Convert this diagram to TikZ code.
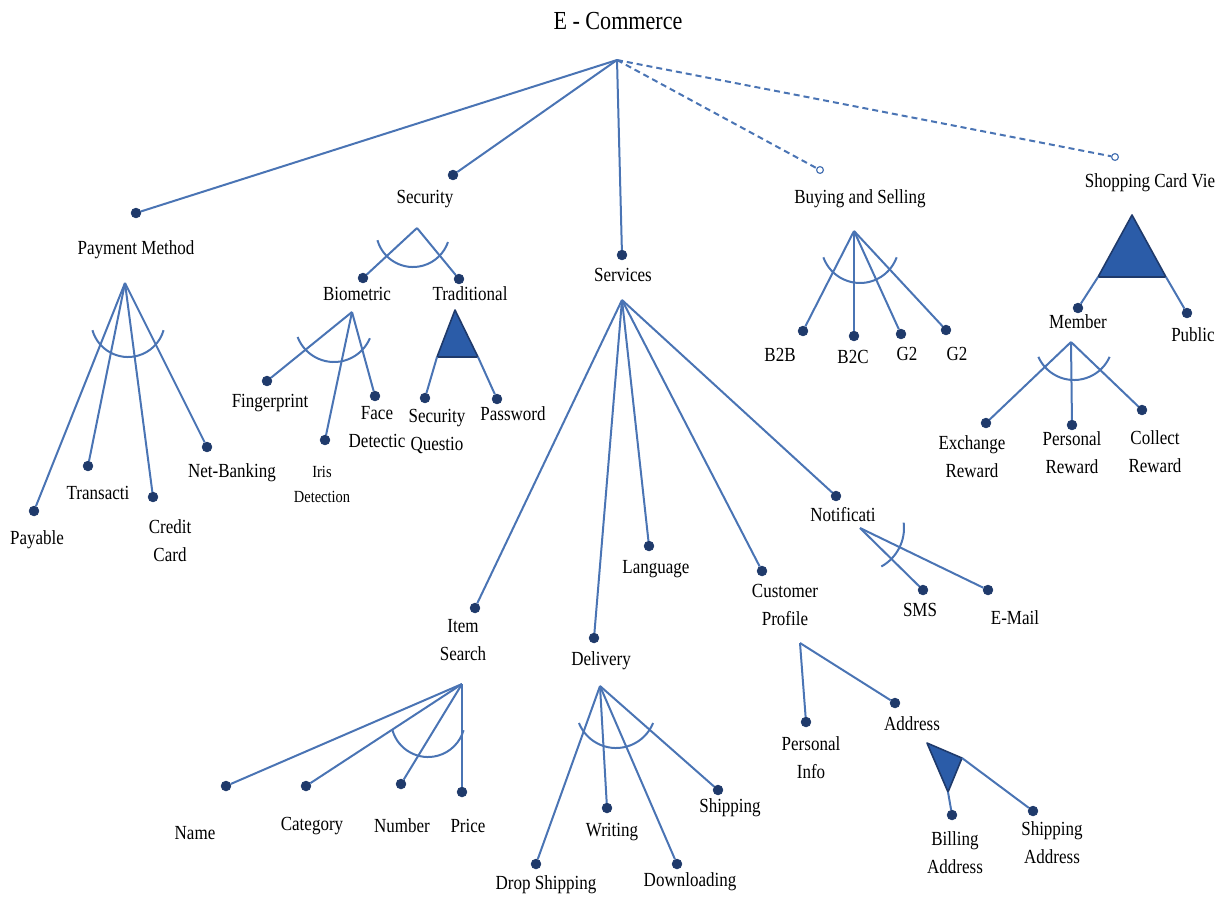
\documentclass[tikz,border=0pt]{standalone}
\usepackage{fontspec}
\setmainfont{Liberation Serif}[FakeStretch=0.85]
\definecolor{ln}{HTML}{4A74B4}
\definecolor{dt}{HTML}{1F3A6B}
\definecolor{tri}{HTML}{2B5CA8}
\begin{document}
\begin{tikzpicture}[x=0.5pt,y=-0.5pt,
  dotn/.style={circle,fill=dt,draw=dt,inner sep=0pt,minimum size=4.8pt},
  odot/.style={circle,draw=ln,fill=white,inner sep=0pt,minimum size=3.4pt,line width=0.6pt},
  lbl/.style={font=\fontsize{10}{14}\selectfont,align=center,inner sep=0pt},
  slbl/.style={font=\fontsize{8.5}{12.5}\selectfont,align=center,inner sep=0pt},
  edge/.style={draw=ln,line width=1pt},
  dedge/.style={draw=ln,line width=1pt,dash pattern=on 3pt off 2pt},
  trif/.style={fill=tri,draw=dt,line width=0.8pt,line join=round}]
\useasboundingbox (0,0) rectangle (1231,902);
% root
\node[lbl,font=\fontsize{13}{15}\selectfont] (ecom) at (618,21) {E - Commerce};
\coordinate (r) at (617,60);
% level 1 dots
\node[dotn] (pm) at (136,213) {};
\node[dotn] (sec) at (453,175) {};
\node[dotn] (srv) at (622,255) {};
\node[odot] (bs) at (820,170) {};
\node[odot] (scv) at (1115,157) {};
\draw[edge] (r) -- (pm);
\draw[edge] (r) -- (sec);
\draw[edge] (r) -- (srv);
\draw[dedge] (r) -- (bs);
\draw[dedge] (r) -- (scv);
% Payment method
\node[lbl] (pmL) at (136,250) {Payment Method};
\coordinate (pmA) at (125,283);
\node[dotn] (pay) at (34,511) {};
\node[dotn] (tr) at (88,466) {};
\node[dotn] (cc) at (153,497) {};
\node[dotn] (nb) at (207,447) {};
\node[lbl] (payL) at (37,540) {Payable};
\node[lbl] (trL) at (98,493) {Transacti};
\node[lbl] (ccL) at (170,541) {Credit\\Card};
\node[lbl] (nbL) at (232,473) {Net-Banking};
\foreach \n in {pay,tr,cc,nb} \draw[edge] (pmA) -- (\n);
\coordinate (pmC) at (128,320);
\draw[edge] (pmC) ++(164:37) arc (164:16:37);
% Security
\node[lbl] (secL) at (425,199) {Security};
\coordinate (secA) at (417,228);
\node[dotn] (bio) at (363,278) {};
\node[dotn] (trad) at (459,279) {};
\draw[edge] (secA) -- (bio);
\draw[edge] (secA) -- (trad);
\coordinate (secC) at (413,230);
\draw[edge] (secC) ++(164:37) arc (164:19:37);
\node[lbl] (bioL) at (357,294) {Biometric};
\node[lbl] (tradL) at (470,294) {Traditional};
% Biometric
\coordinate (bioA) at (352,312);
\node[dotn] (fp) at (267,381) {};
\node[dotn] (iris) at (325,440) {};
\node[dotn] (face) at (375,396) {};
\foreach \n in {fp,iris,face} \draw[edge] (bioA) -- (\n);
\coordinate (bioC) at (334,323);
\draw[edge] (bioC) ++(159:39) arc (159:23:39);
\node[lbl] (fpL) at (270,403) {Fingerprint};
\node[slbl] (irisL) at (322,484) {Iris\\Detection};
\node[lbl] (faceL) at (377,427) {Face\\Detectic};
% Traditional
\coordinate (tT) at (455,310);
\coordinate (tL) at (437,357);
\coordinate (tR) at (478,357);
\draw[trif] (tT) -- (tL) -- (tR) -- cycle;
\node[dotn] (sq) at (425,398) {};
\node[dotn] (pw) at (497,399) {};
\draw[edge] (tL) -- (sq);
\draw[edge] (tR) -- (pw);
\node[lbl] (sqL) at (437,431) {Security\\Questio};
\node[lbl] (pwL) at (513,414) {Password};
% Services
\node[lbl] (srvL) at (623,275) {Services};
\coordinate (srvA) at (622,300);
\node[dotn] (is) at (475,608) {};
\node[dotn] (del) at (594,638) {};
\node[dotn] (lang) at (649,546) {};
\node[dotn] (cp) at (762,571) {};
\node[dotn] (nt) at (836,496) {};
\foreach \n in {is,del,lang,cp,nt} \draw[edge] (srvA) -- (\n);
\node[lbl] (isL) at (463,640) {Item\\Search};
\node[lbl] (delL) at (601,661) {Delivery};
\node[lbl] (langL) at (656,569) {Language};
\node[lbl] (cpL) at (785,605) {Customer\\Profile};
\node[lbl] (ntL) at (843,515) {Notificati};
% Notification
\coordinate (ntA) at (860,528);
\node[dotn] (sms) at (923,590) {};
\node[dotn] (em) at (988,590) {};
\draw[edge] (ntA) -- (sms);
\draw[edge] (ntA) -- (em);
\draw[edge] (ntA) ++(-7:44) arc (-7:61:44);
\node[lbl] (smsL) at (920,610) {SMS};
\node[lbl] (emL) at (1015,618) {E-Mail};
% Customer profile
\coordinate (cpA) at (800,643);
\node[dotn] (pi) at (806,722) {};
\node[dotn] (ad) at (895,703) {};
\draw[edge] (cpA) -- (pi);
\draw[edge] (cpA) -- (ad);
\node[lbl] (piL) at (811,758) {Personal\\Info};
\node[lbl] (adL) at (912,724) {Address};
\coordinate (aT) at (927,743);
\coordinate (aR) at (962,758);
\coordinate (aB) at (948,792);
\draw[trif] (aT) -- (aR) -- (aB) -- cycle;
\node[dotn] (ba) at (952,815) {};
\node[dotn] (sa) at (1033,811) {};
\draw[edge] (aB) -- (ba);
\draw[edge] (aR) -- (sa);
\node[lbl] (baL) at (955,853) {Billing\\Address};
\node[lbl] (saL) at (1052,843) {Shipping\\Address};
% Item search
\coordinate (isA) at (462,684);
\node[dotn] (nm) at (226,786) {};
\node[dotn] (cat) at (306,786) {};
\node[dotn] (num) at (401,784) {};
\node[dotn] (pr) at (462,792) {};
\foreach \n in {nm,cat,num,pr} \draw[edge] (isA) -- (\n);
\coordinate (isC) at (428,720);
\draw[edge] (isC) ++(164:37) arc (164:16:37);
\node[lbl] (nmL) at (195,833) {Name};
\node[lbl] (catL) at (312,826) {Category};
\node[lbl] (numL) at (402,826) {Number};
\node[lbl] (prL) at (468,826) {Price};
% Delivery
\coordinate (delA) at (600,686);
\node[dotn] (ds) at (536,864) {};
\node[dotn] (wr) at (607,808) {};
\node[dotn] (dl) at (677,864) {};
\node[dotn] (sh) at (718,790) {};
\foreach \n in {ds,wr,dl,sh} \draw[edge] (delA) -- (\n);
\coordinate (delC) at (616,708);
\draw[edge] (delC) ++(158:40) arc (158:22:40);
\node[lbl] (dsL) at (546,885) {Drop Shipping};
\node[lbl] (wrL) at (612,832) {Writing};
\node[lbl] (dlL) at (690,882) {Downloading};
\node[lbl] (shL) at (730,808) {Shipping};
% Buying and selling
\node[lbl] (bsL) at (860,199) {Buying and Selling};
\coordinate (bsA) at (854,231);
\node[dotn] (b2b) at (803,331) {};
\node[dotn] (b2c) at (854,336) {};
\node[dotn] (g2a) at (901,334) {};
\node[dotn] (g2b) at (946,330) {};
\foreach \n in {b2b,b2c,g2a,g2b} \draw[edge] (bsA) -- (\n);
\coordinate (bsC) at (860,244);
\draw[edge] (bsC) ++(160:39) arc (160:20:39);
\node[lbl] (b2bL) at (780,355) {B2B};
\node[lbl] (b2cL) at (853,357) {B2C};
\node[lbl] (g2aL) at (907,354) {G2};
\node[lbl] (g2bL) at (957,354) {G2};
% Shopping card view
\node[lbl] (scvL) at (1150,183) {Shopping Card Vie};
\coordinate (sT) at (1132,215);
\coordinate (sL) at (1098,277);
\coordinate (sR) at (1166,277);
\draw[trif] (sT) -- (sL) -- (sR) -- cycle;
\node[dotn] (mem) at (1078,308) {};
\node[dotn] (pub) at (1187,313) {};
\draw[edge] (sL) -- (mem);
\draw[edge] (sR) -- (pub);
\node[lbl] (memL) at (1078,322) {Member};
\node[lbl] (pubL) at (1193,335) {Public};
\coordinate (memA) at (1071,342);
\node[dotn] (ex) at (986,423) {};
\node[dotn] (pr2) at (1072,425) {};
\node[dotn] (co) at (1142,410) {};
\foreach \n in {ex,pr2,co} \draw[edge] (memA) -- (\n);
\coordinate (memC) at (1074,341);
\draw[edge] (memC) ++(156:39) arc (156:24:39);
\node[lbl] (exL) at (972,457) {Exchange\\Reward};
\node[lbl] (pr2L) at (1072,453) {Personal\\Reward};
\node[lbl] (coL) at (1155,452) {Collect\\Reward};
\end{tikzpicture}
\end{document}
